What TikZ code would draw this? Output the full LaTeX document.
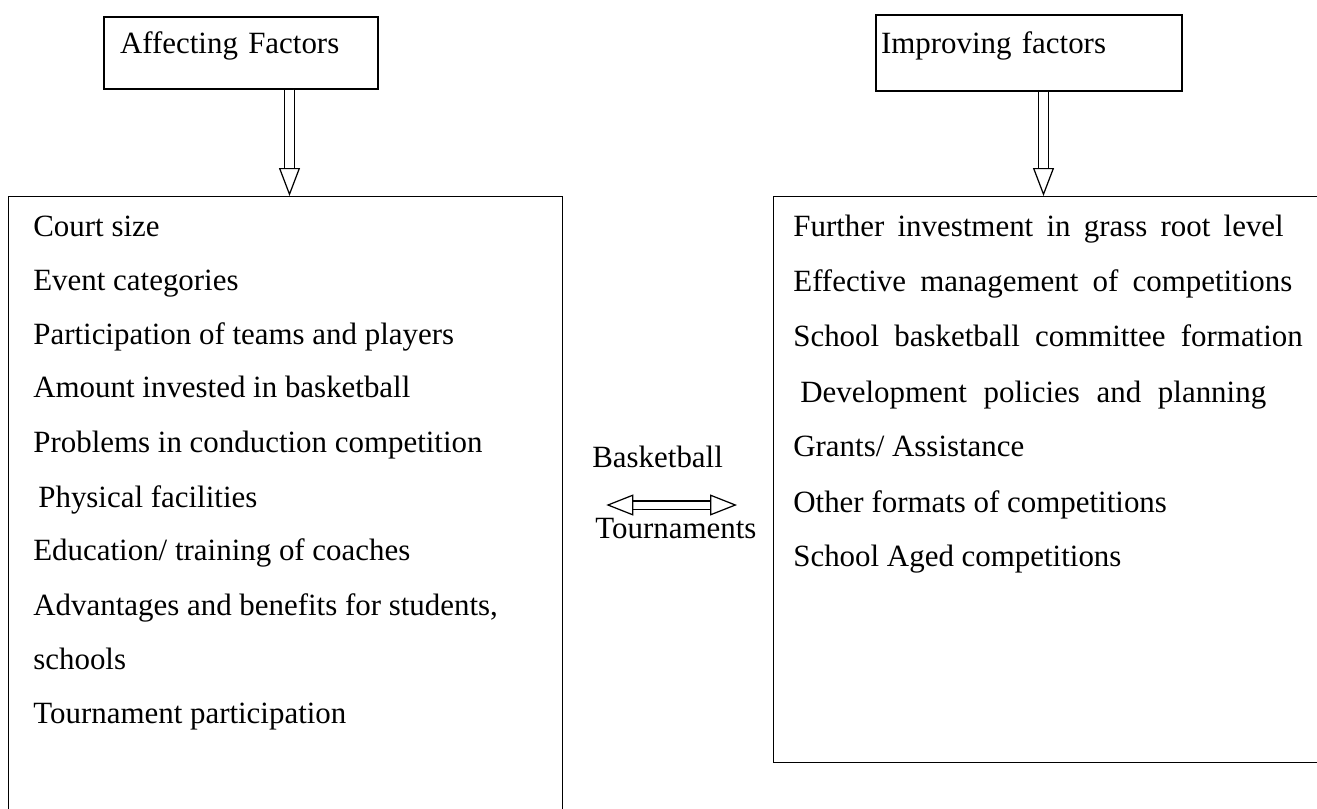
\documentclass[tikz,border=0pt]{standalone}
\usepackage{fontspec}
\setmainfont{Liberation Serif}
\usetikzlibrary{arrows.meta, positioning, calc}
\newcommand{\wordgap}[1]{\spaceskip=\dimexpr\fontdimen2\font+#1\relax}
\tikzset{
    headbox/.style={
        rectangle,
        draw=black,
        line width=0.8pt,
        minimum height=1.44cm,
        align=left,
        text height=0.65em,
        text depth=0.6em,
        font=\fontsize{17.6}{21}\selectfont
    },
    listbox/.style={
        rectangle,
        draw=black,
        line width=0.8pt,
        anchor=north west,
        inner sep=0pt
    },
    item/.style={
        anchor=base west,
        inner sep=0pt,
        font=\fontsize{17.6}{21}\selectfont
    },
    fatarrow/.style={
        draw=black,
        line width=0.7pt,
        double=white,
        double distance=0.17cm,
        -{Triangle[open, length=0.56cm, width=0.42cm]}
    },
    linkarrow/.style={
        draw=black,
        line width=0.7pt,
        double=white,
        double distance=0.14cm,
        {Triangle[open, length=0.54cm, width=0.42cm]}-{Triangle[open, length=0.54cm, width=0.42cm]}
    }
}
\begin{document}
\begin{tikzpicture}[x=0.02cm, y=-0.02cm]
\path[use as bounding box] (0,0) rectangle (1317,808);
\clip (0,0) rectangle (1317,808);

% Header boxes
\node[headbox, minimum width=5.48cm, text width=4.84cm, inner sep=0.32cm] (affect) at (241,53) {Affecting Factors};
\node[headbox, minimum width=6.12cm, minimum height=1.52cm, text width=5.92cm, inner sep=0.1cm] (improve) at (1029,53) {Improving factors};

% List boxes
\node[listbox, minimum width=11.08cm, minimum height=13cm] (leftbox) at (8,196) {};
\node[listbox, minimum width=12cm, minimum height=11.32cm] (rightbox) at (773,196) {};

\draw[fatarrow] ([xshift=0.97cm]affect.south) -- ([xshift=0.97cm]affect.south |- leftbox.north);
\draw[fatarrow] ([xshift=0.29cm]improve.south) -- ([xshift=0.29cm]improve.south |- rightbox.north);

% Affecting factors
\node[item] (a1) at (33,236) {Court size};
\node[item] (a2) at (33,290) {Event categories};
\node[item] (a3) at (33,344) {Participation of teams and players};
\node[item] (a4) at (33,397) {Amount invested in basketball};
\node[item] (a5) at (33,452) {Problems in conduction competition};
\node[item] (a6) at (38,507) {Physical facilities};
\node[item] (a7) at (33,560) {Education/ training of coaches};
\node[item] (a8) at (33,615) {Advantages and benefits for students,};
\node[item] (a9) at (33,669) {schools};
\node[item] (a10) at (33,723) {Tournament participation};

% Improving factors
\node[item] (b1) at (793,236) {\wordgap{0.11cm}Further investment in grass root level};
\node[item] (b2) at (793,291) {\wordgap{0.13cm}Effective management of competitions};
\node[item] (b3) at (793,346) {\wordgap{0.15cm}School basketball committee formation};
\node[item] (b4) at (800,402) {\wordgap{0.18cm}Development policies and planning};
\node[item] (b5) at (793,456) {Grants/ Assistance};
\node[item] (b6) at (793,512) {Other formats of competitions};
\node[item] (b7) at (793,566) {School Aged competitions};

% Link
\node[item] (ball) at (592,467) {Basketball};
\node[item] (tour) at (595,538) {Tournaments};
\draw[linkarrow, shorten <=0.86cm, shorten >=0.72cm] (leftbox.east |- 0,505) -- (rightbox.west |- 0,505);

\end{tikzpicture}
\end{document}
